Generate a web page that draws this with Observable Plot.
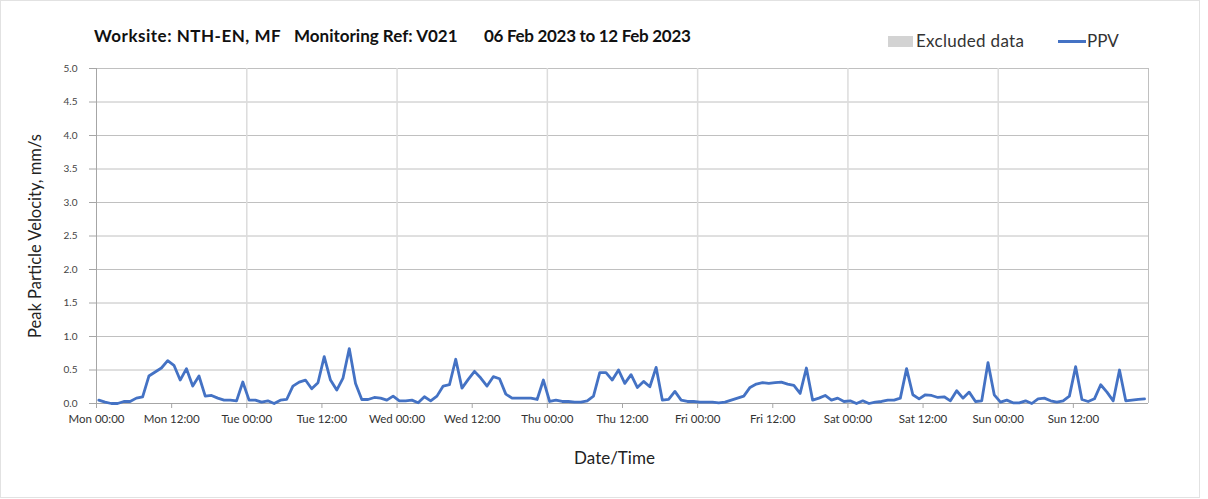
<!DOCTYPE html>
<html><head><meta charset="utf-8">
<script src="https://cdn.jsdelivr.net/npm/d3@7"></script>
<script src="https://cdn.jsdelivr.net/npm/@observablehq/plot@0.6"></script>
<style>
body{margin:0;background:#fff;font-family:Lato,"Open Sans",sans-serif;color:#111;}
#wrap{position:relative;width:1208px;height:499px;overflow:hidden;}
#border{position:absolute;left:0;top:0;width:1200px;height:498px;border:1px solid #e2e2e2;box-sizing:border-box;pointer-events:none;}
#header{position:relative;height:60px;}
.t{position:absolute;top:26px;font-weight:bold;font-size:17px;line-height:20px;white-space:nowrap;color:#111;}
.lg{position:absolute;font-size:17px;line-height:20px;top:31px;white-space:nowrap;color:#333;}
#sw1{position:absolute;left:888px;top:36px;width:25px;height:11px;background:#d3d3d3;}
#sw2{position:absolute;left:1058px;top:40px;width:28px;height:2.5px;background:#4472C4;}
svg{display:block;}
</style></head>
<body>
<div id="wrap">
  <div id="header">
    <span class="t" style="left:94px;letter-spacing:0.5px">Worksite: NTH-EN, MF</span>
    <span class="t" style="left:294px">Monitoring Ref: V021</span>
    <span class="t" style="left:484px;letter-spacing:-0.3px">06 Feb 2023 to 12 Feb 2023</span>
    <div id="sw1"></div><span class="lg" style="left:916px;letter-spacing:0.3px">Excluded data</span>
    <div id="sw2"></div><span class="lg" style="left:1087px">PPV</span>
  </div>
  <div id="chart"></div>
  <div id="border"></div>
</div>
<script>
// Hourly PPV readings (mm/s), first reading 06 Feb 2023 00:22
const seriesStart = "2023-02-06T00:22:00Z";
const stepHours = 1;
const ppv = [
0.05,0.02,0.0,0.0,0.03,0.03,0.08,0.1,0.41,0.47,
0.53,0.64,0.57,0.35,0.52,0.26,0.41,0.11,0.12,0.08,
0.05,0.05,0.04,0.32,0.05,0.05,0.02,0.04,0.0,0.05,
0.06,0.26,0.32,0.35,0.22,0.31,0.7,0.35,0.2,0.38,
0.82,0.3,0.06,0.06,0.09,0.08,0.05,0.11,0.04,0.04,
0.05,0.01,0.1,0.04,0.11,0.26,0.28,0.66,0.23,0.36,
0.48,0.38,0.26,0.4,0.37,0.14,0.08,0.08,0.08,0.08,
0.06,0.35,0.03,0.05,0.03,0.03,0.02,0.02,0.04,0.11,
0.46,0.46,0.35,0.5,0.3,0.43,0.24,0.33,0.25,0.54,
0.05,0.06,0.18,0.05,0.03,0.03,0.02,0.02,0.02,0.01,
0.02,0.05,0.08,0.11,0.24,0.29,0.31,0.3,0.31,0.32,
0.29,0.27,0.15,0.53,0.05,0.08,0.12,0.05,0.08,0.03,
0.04,0.0,0.04,0.0,0.02,0.03,0.05,0.05,0.08,0.52,
0.13,0.07,0.13,0.12,0.09,0.1,0.04,0.19,0.08,0.17,
0.03,0.04,0.61,0.13,0.02,0.05,0.01,0.01,0.04,0.0,
0.07,0.08,0.04,0.02,0.04,0.11,0.55,0.06,0.03,0.07,
0.28,0.17,0.04,0.5,0.04,0.05,0.06,0.07
];
const xDomain = ["2023-02-06T00:00:00Z", "2023-02-13T00:00:00Z"];
const yTicks = [0,0.5,1,1.5,2,2.5,3,3.5,4,4.5,5];
const yLabel = "Peak Particle Velocity, mm/s";
const xLabel = "Date/Time";

const t0 = new Date(seriesStart);
const data = ppv.map((v, i) => ({time: d3.utcHour.offset(t0, i * stepHours), ppv: v}));
const x0 = new Date(xDomain[0]), x1 = new Date(xDomain[1]);
const tick12 = d3.utcHour.every(12).range(x0, x1);
const days = d3.utcDay.range(x0, x1).slice(1);

const chart = Plot.plot({
  width: 1208, height: 439,
  marginLeft: 96, marginRight: 60, marginTop: 8, marginBottom: 96,
  style: {fontFamily: "Lato, 'Open Sans', sans-serif", background: "#fff"},
  x: {type: "utc", domain: [x0, x1]},
  y: {domain: [0, 5]},
  marks: [
    Plot.gridY(yTicks, {stroke: "#c0c0c0", strokeOpacity: 1, strokeWidth: 1}),
    Plot.gridX(days, {stroke: "#dcdcdc", strokeOpacity: 1, strokeWidth: 1.5}),
    Plot.ruleX([x1], {stroke: "#c0c0c0", strokeWidth: 1}),
    Plot.ruleX([x0], {stroke: "#a6a6a6", strokeWidth: 1}),
    Plot.ruleY([0], {stroke: "#a6a6a6", strokeWidth: 1}),
    Plot.axisY(yTicks, {tickFormat: d3.format(".1f"), tickSize: 7, tickPadding: 12, fontSize: 10, fill: "#444", stroke: "#a6a6a6", label: null}),
    Plot.axisX(tick12, {tickFormat: d3.utcFormat("%a %H:%M"), tickSize: 5, tickPadding: 6, fontSize: 11.5, fill: "#333", stroke: "#a6a6a6", label: null}),
    Plot.line(data, {x: "time", y: "ppv", stroke: "#4472C4", strokeWidth: 2.8, strokeLinejoin: "round"}),
    Plot.text([yLabel], {frameAnchor: "left", textAnchor: "middle", dx: -61, rotate: -90, fontSize: 16.5, fill: "#222"}),
    Plot.text([xLabel], {frameAnchor: "bottom", textAnchor: "middle", dy: 60, dx: -8, fontSize: 17, fill: "#222"})
  ]
});
document.getElementById("chart").appendChild(chart);
</script>
</body></html>
